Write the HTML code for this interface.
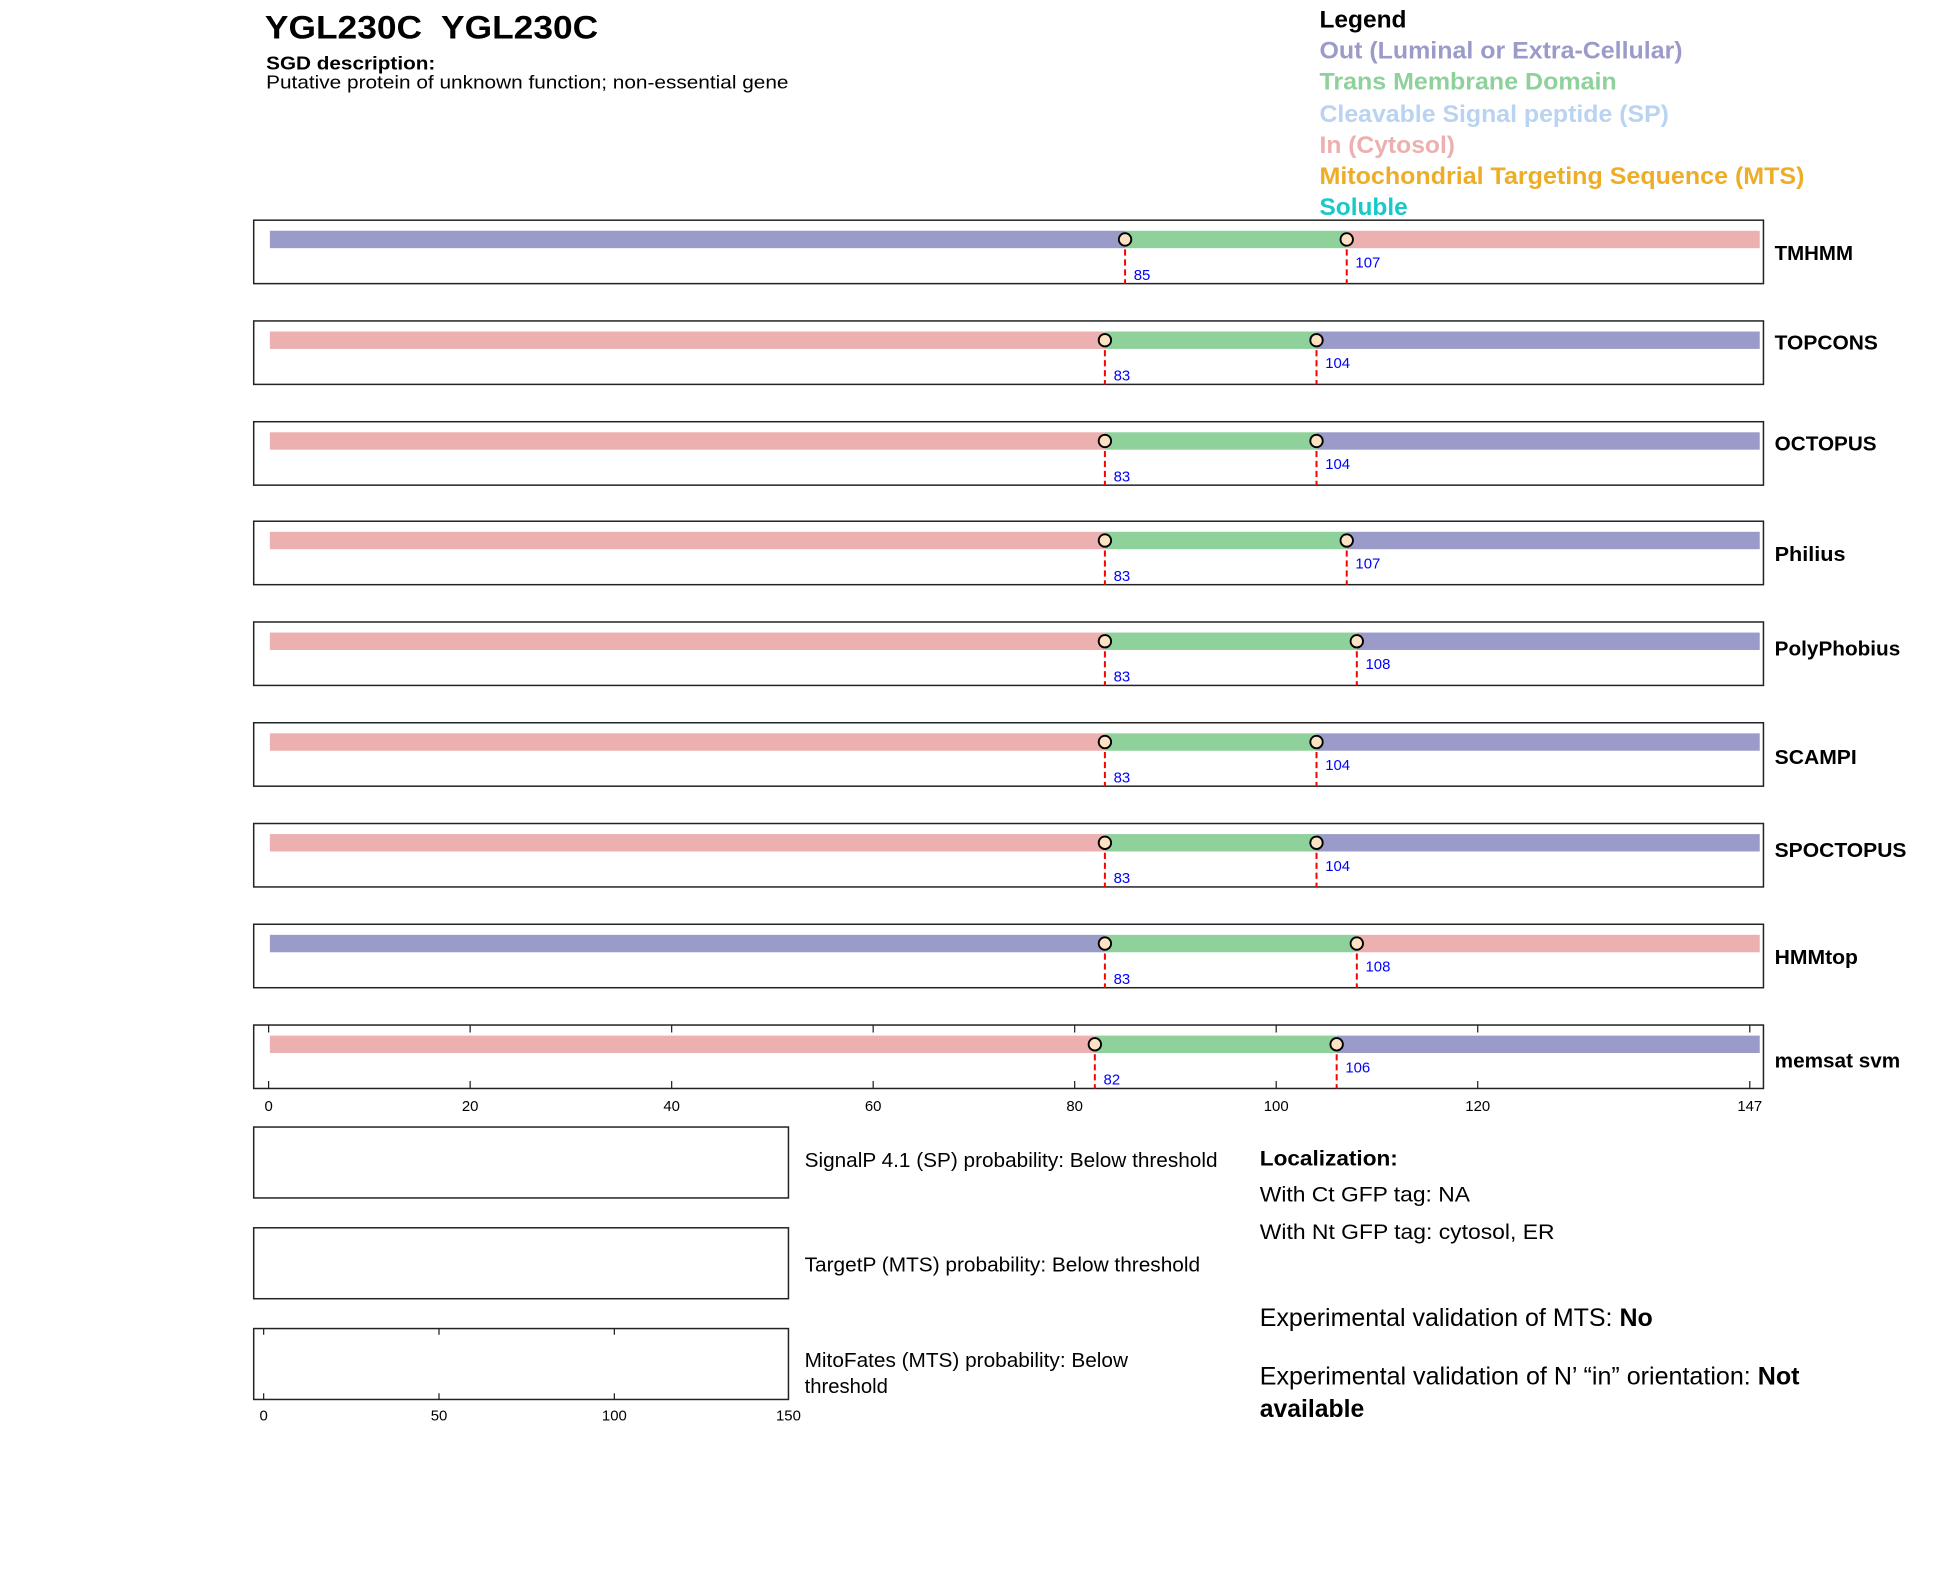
<!DOCTYPE html>
<html><head><meta charset="utf-8"><style>
html,body{margin:0;padding:0;background:#fff;}
svg{display:block;font-family:"Liberation Sans",Arial,sans-serif;}
</style></head><body>
<svg id="s" width="1950" height="1573" viewBox="0 0 1568 1264.5" preserveAspectRatio="none" xmlns="http://www.w3.org/2000/svg">
<g lengthAdjust="spacingAndGlyphs">
<text x="213" y="31" font-size="26" font-weight="bold" xml:space="preserve" textLength="268" lengthAdjust="spacingAndGlyphs">YGL230C  YGL230C</text>
<text x="214" y="56" font-size="15" font-weight="bold" textLength="136" lengthAdjust="spacingAndGlyphs">SGD description:</text>
<text x="214" y="71" font-size="15" textLength="420" lengthAdjust="spacingAndGlyphs">Putative protein of unknown function; non-essential gene</text>
<g font-size="19" font-weight="bold">
<text x="1061" y="22" textLength="70" lengthAdjust="spacingAndGlyphs">Legend</text>
<text x="1061" y="47" fill="#9b9bca" textLength="292" lengthAdjust="spacingAndGlyphs">Out (Luminal or Extra-Cellular)</text>
<text x="1061" y="72" fill="#8fd19b" textLength="239" lengthAdjust="spacingAndGlyphs">Trans Membrane Domain</text>
<text x="1061" y="98" fill="#b9d3f0" textLength="281" lengthAdjust="spacingAndGlyphs">Cleavable Signal peptide (SP)</text>
<text x="1061" y="123" fill="#ecb0b0" textLength="109" lengthAdjust="spacingAndGlyphs">In (Cytosol)</text>
<text x="1061" y="148" fill="#eead27" textLength="390" lengthAdjust="spacingAndGlyphs">Mitochondrial Targeting Sequence (MTS)</text>
<text x="1061" y="173" fill="#17c9c9" textLength="71" lengthAdjust="spacingAndGlyphs">Soluble</text>
</g>
</g>
<g id="panels"></g>
<rect x="204" y="906" width="430" height="57" fill="none" stroke="#222" stroke-width="1.2"/>
<rect x="204" y="987" width="430" height="57" fill="none" stroke="#222" stroke-width="1.2"/>
<rect x="204" y="1068" width="430" height="57" fill="none" stroke="#222" stroke-width="1.2"/>
<g stroke="#222" stroke-width="1">
<line x1="212" y1="1068" x2="212" y2="1073"/><line x1="353" y1="1068" x2="353" y2="1073"/><line x1="494" y1="1068" x2="494" y2="1073"/>
<line x1="212" y1="1125" x2="212" y2="1120"/><line x1="353" y1="1125" x2="353" y2="1120"/><line x1="494" y1="1125" x2="494" y2="1120"/>
</g>
<g font-size="12" text-anchor="middle">
<text x="212" y="1142">0</text><text x="353" y="1142">50</text><text x="494" y="1142">100</text><text x="634" y="1142">150</text>
</g>
<g font-size="16">
<text x="647" y="938" textLength="332" lengthAdjust="spacingAndGlyphs">SignalP 4.1 (SP) probability: Below threshold</text>
<text x="647" y="1022" textLength="318" lengthAdjust="spacingAndGlyphs">TargetP (MTS) probability: Below threshold</text>
<text x="647" y="1099" textLength="260" lengthAdjust="spacingAndGlyphs">MitoFates (MTS) probability: Below</text>
<text x="647" y="1120" textLength="67" lengthAdjust="spacingAndGlyphs">threshold</text>
<text x="1013" y="937" font-size="17" font-weight="bold" textLength="111" lengthAdjust="spacingAndGlyphs">Localization:</text>
<text x="1013" y="966" font-size="17" textLength="169" lengthAdjust="spacingAndGlyphs">With Ct GFP tag: NA</text>
<text x="1013" y="996" font-size="17" textLength="237" lengthAdjust="spacingAndGlyphs">With Nt GFP tag: cytosol, ER</text>
<text x="1013" y="1066" font-size="20" textLength="316" lengthAdjust="spacingAndGlyphs">Experimental validation of MTS: <tspan font-weight="bold">No</tspan></text>
<text x="1013" y="1113" font-size="20" textLength="434" lengthAdjust="spacingAndGlyphs">Experimental validation of N’ “in” orientation: <tspan font-weight="bold">Not</tspan></text>
<text x="1013" y="1139" font-size="20" font-weight="bold" textLength="84" lengthAdjust="spacingAndGlyphs">available</text>
</g>
</svg>
<script>
var OUT="#9b9bca",TM="#8fd19b",IN="#ecb0b0";
var data=[
["TMHMM",OUT,85,107,IN,209,63],
["TOPCONS",IN,83,104,OUT,281,83],
["OCTOPUS",IN,83,104,OUT,362,82],
["Philius",IN,83,107,OUT,451,57],
["PolyPhobius",IN,83,108,OUT,527,101],
["SCAMPI",IN,83,104,OUT,614,66],
["SPOCTOPUS",IN,83,104,OUT,689,106],
["HMMtop",OUT,83,108,IN,775,67],
["memsat svm",IN,82,106,OUT,858,101]];
var tops=[177,258,339,419,500,581,662,743,824];
function X(v){return 216+v*8.102;}
var h="";
data.forEach(function(d,i){
 var t=tops[i],c=t+15.5,b=t+51;
 h+='<rect x="204" y="'+t+'" width="1214" height="51" fill="none" stroke="#222" stroke-width="1.2"/>';
 var a=X(d[2]),e=X(d[3]);
 h+='<rect x="217" y="'+(c-7)+'" width="'+(a-217)+'" height="14" fill="'+d[1]+'"/>';
 h+='<rect x="'+a+'" y="'+(c-7)+'" width="'+(e-a)+'" height="14" fill="'+TM+'"/>';
 h+='<rect x="'+e+'" y="'+(c-7)+'" width="'+(1415-e)+'" height="14" fill="'+d[4]+'"/>';
 [a,e].forEach(function(x,k){
  h+='<line x1="'+x+'" y1="'+c+'" x2="'+x+'" y2="'+b+'" stroke="#f00" stroke-width="1.6" stroke-dasharray="5,3"/>';
  h+='<circle cx="'+x+'" cy="'+c+'" r="5" fill="#fde3c4" stroke="#000" stroke-width="1.5"/>';
  h+='<text x="'+(x+7)+'" y="'+(k==0?t+48:t+38)+'" font-size="12" fill="#00f">'+d[2+k]+'</text>';
 });
 h+='<text x="1427" y="'+d[5]+'" font-size="16" font-weight="bold" textLength="'+d[6]+'" lengthAdjust="spacingAndGlyphs">'+d[0]+'</text>';
});
var t=824,b=875;
[0,20,40,60,80,100,120,147].forEach(function(v){
 var x=X(v);
 h+='<line x1="'+x+'" y1="'+t+'" x2="'+x+'" y2="'+(t+6)+'" stroke="#222"/>';
 h+='<line x1="'+x+'" y1="'+b+'" x2="'+x+'" y2="'+(b-6)+'" stroke="#222"/>';
 h+='<text x="'+x+'" y="893" font-size="12" text-anchor="middle">'+v+'</text>';
});
document.getElementById("panels").innerHTML=h;
</script>
</body></html>
